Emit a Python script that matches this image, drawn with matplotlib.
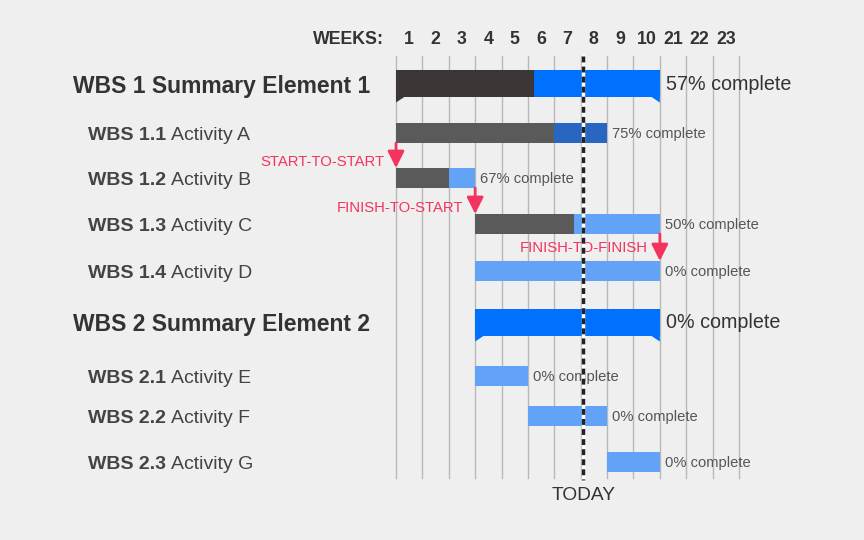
import matplotlib.pyplot as plt
from matplotlib.patches import Polygon
from matplotlib.transforms import blended_transform_factory

plt.rcParams["font.family"] = ["Liberation Sans", "DejaVu Sans"]

# ----- data -----
codes = ["WBS 1", "WBS 1.1", "WBS 1.2", "WBS 1.3", "WBS 1.4",
         "WBS 2", "WBS 2.1", "WBS 2.2", "WBS 2.3"]
names = ["Summary Element 1", "Activity A", "Activity B", "Activity C", "Activity D",
         "Summary Element 2", "Activity E", "Activity F", "Activity G"]
is_summary = [True, False, False, False, False, True, False, False, False]
start = [0, 0, 0, 3, 3, 3, 3, 5, 8]
finish = [10, 8, 3, 10, 10, 10, 5, 8, 10]
done_to = [5.22, 6, 2, 6.75, 3, 3, 3, 5, 8]
pct = [57, 75, 67, 50, 0, 0, 0, 0, 0]

week_labels = ["1", "2", "3", "4", "5", "6", "7", "8", "9", "10", "21", "22", "23"]
today = 7.1

# dependencies: label, x position (weeks), from row, to row
dep_labels = ["START-TO-START", "FINISH-TO-START", "FINISH-TO-FINISH"]
dep_x = [0, 3, 10]
dep_from = [1, 2, 3]
dep_to = [2, 3, 4]

# ----- layout / style -----
row_y = [83, 133, 178, 224, 271, 322, 376, 416, 462]   # pixel rows from top
dep_text_dy = [-6, -6, -13]
bg = "#efefef"
dark_sum = "#3d3636"
blue_sum = "#0070ff"
dark_act = "#5a5a5a"
remain_col = ["#0070ff", "#2966c2", "#62a3f7", "#62a3f7", "#62a3f7",
              "#0070ff", "#62a3f7", "#62a3f7", "#62a3f7"]
red = "#f4345e"
px_per_week = 26.385
x0_px = 396

fig = plt.figure(figsize=(8.64, 5.4), dpi=100, facecolor=bg)
ax = fig.add_axes([0, 0, 1, 1])
ax.set_facecolor(bg)
ax.set_xlim(-x0_px / px_per_week, (864 - x0_px) / px_per_week)
ax.set_ylim(540, 0)
ax.axis("off")

# grid
for i in range(len(week_labels) + 1):
    ax.plot([i, i], [56, 478], color="#b8b8b8", lw=1, zorder=1)

# header
ax.text(-0.45, 40, "WEEKS:", ha="right", va="center", fontsize=12.8,
        fontweight="bold", color="#333333")
for i, w in enumerate(week_labels):
    ax.text(i + 0.5, 40, w, ha="center", va="center", fontsize=12.8,
            fontweight="bold", color="#333333")

lab_tr = blended_transform_factory(ax.transAxes, ax.transData)

for i in range(len(codes)):
    y = row_y[i]
    if is_summary[i]:
        h = 27
        ax.barh(y, done_to[i] - start[i], left=start[i], height=h, color=dark_sum, zorder=3)
        ax.barh(y, finish[i] - done_to[i], left=done_to[i], height=h, color=blue_sum, zorder=3)
        bot = y + h / 2
        lcol = dark_sum if done_to[i] > start[i] else blue_sum
        ax.add_patch(Polygon([(start[i], bot - 1), (start[i], bot + 6), (start[i] + 0.4, bot - 1)],
                             closed=True, color=lcol, zorder=3, lw=0))
        ax.add_patch(Polygon([(finish[i], bot - 1), (finish[i], bot + 6), (finish[i] - 0.4, bot - 1)],
                             closed=True, color=blue_sum, zorder=3, lw=0))
        ax.text(finish[i] + 0.22, y + 1, f"{pct[i]}% complete", ha="left", va="center",
                fontsize=14.2, color="#333333")
        ax.text(73 / 864, y + 3, f"{codes[i]} {names[i]}", transform=lab_tr, ha="left",
                va="center", fontsize=16.5, fontweight="bold", color="#333333")
    else:
        h = 20
        ax.barh(y, done_to[i] - start[i], left=start[i], height=h, color=dark_act, zorder=3)
        ax.barh(y, finish[i] - done_to[i], left=done_to[i], height=h, color=remain_col[i],
                zorder=3)
        ax.text(finish[i] + 0.2, y + 1, f"{pct[i]}% complete", ha="left", va="center",
                fontsize=10.6, color="#555555")
        t = ax.text(88 / 864, y + 11, codes[i], transform=lab_tr, ha="left", va="bottom",
                    fontsize=14, fontweight="bold", color="#444444")
        ax.annotate(names[i], xy=(1, 0), xycoords=t, xytext=(3.5, 0),
                    textcoords="offset points", ha="left", va="bottom",
                    fontsize=14, color="#444444")

# dependency arrows
for k in range(len(dep_labels)):
    y_a = row_y[dep_from[k]] + 10
    y_b = row_y[dep_to[k]] - 10
    ax.annotate("", xy=(dep_x[k], y_b), xytext=(dep_x[k], y_a),
                arrowprops=dict(arrowstyle="-|>,head_length=0.5,head_width=0.25",
                                mutation_scale=20, color=red, lw=2,
                                shrinkA=0, shrinkB=0), zorder=5)
    ax.text(dep_x[k] - 0.45, y_b + dep_text_dy[k], dep_labels[k], ha="right", va="center",
            fontsize=10.7, color=red, zorder=5)

# today line
ax.plot([today, today], [56, 480], color="white", lw=2.5, zorder=6)
ax.plot([today, today], [56, 480], color="#222222", lw=2.5, zorder=7,
        linestyle=(0, (1.7, 1.2)))
ax.text(today, 496, "TODAY", ha="center", va="center", fontsize=13.8, color="#333333")

fig.savefig("out.png", dpi=100, facecolor=bg)
